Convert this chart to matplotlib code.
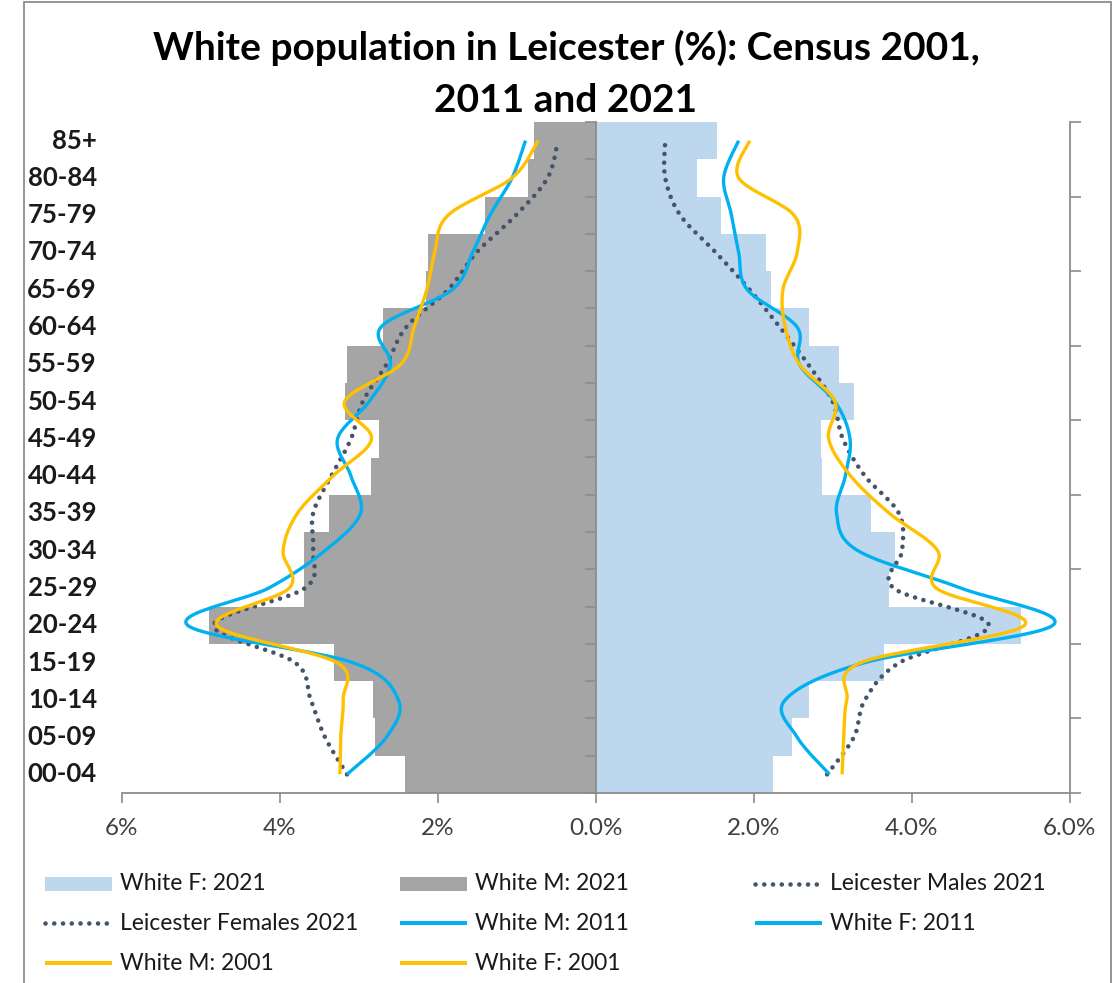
import numpy as np
import matplotlib
matplotlib.use("Agg")
import matplotlib.pyplot as plt
from matplotlib.patches import Rectangle
from matplotlib.lines import Line2D
from matplotlib.transforms import blended_transform_factory

# ---- data (percent of population, age groups from youngest to oldest) ----
age_groups = ["00-04", "05-09", "10-14", "15-19", "20-24", "25-29", "30-34",
              "35-39", "40-44", "45-49", "50-54", "55-59", "60-64", "65-69",
              "70-74", "75-79", "80-84", "85+"]
age_mid = [2.5, 7.5, 12.5, 17.5, 22.5, 27.5, 32.5, 37.5, 42.5, 47.5,
           52.5, 57.5, 62.5, 67.5, 72.5, 77.5, 82.5, 87.5]

white_m_2021 = [2.41, 2.79, 2.82, 3.31, 4.90, 3.69, 3.69, 3.38, 2.85, 2.75,
                3.18, 3.15, 2.69, 2.15, 2.13, 1.40, 0.86, 0.78]
white_f_2021 = [2.25, 2.48, 2.70, 3.65, 5.39, 3.71, 3.79, 3.48, 2.87, 2.85,
                3.27, 3.08, 2.70, 2.22, 2.15, 1.59, 1.28, 1.54]

leicester_m_2021 = [3.15, 3.43, 3.61, 3.81, 4.84, 3.68, 3.58, 3.58, 3.35, 3.10,
                    2.95, 2.65, 2.40, 1.87, 1.51, 1.01, 0.61, 0.48]
leicester_f_2021 = [2.93, 3.27, 3.41, 3.85, 4.98, 3.77, 3.88, 3.84, 3.41, 3.13,
                    3.00, 2.69, 2.33, 1.95, 1.52, 1.07, 0.88, 0.88]

white_m_2011 = [3.15, 2.65, 2.50, 3.08, 5.17, 4.14, 3.43, 2.98, 3.10, 3.27,
                2.87, 2.60, 2.72, 1.82, 1.56, 1.34, 1.06, 0.89]
white_f_2011 = [2.96, 2.55, 2.40, 3.41, 5.79, 4.62, 3.32, 3.05, 3.16, 3.22,
                3.03, 2.58, 2.55, 1.92, 1.81, 1.72, 1.62, 1.81]

white_m_2001 = [3.24, 3.23, 3.20, 3.28, 4.80, 3.88, 3.96, 3.78, 3.33, 2.84,
                3.18, 2.47, 2.30, 2.14, 2.04, 1.87, 1.06, 0.73]
white_f_2001 = [3.12, 3.14, 3.18, 3.36, 5.43, 4.31, 4.33, 3.72, 3.23, 2.95,
                3.03, 2.58, 2.40, 2.37, 2.55, 2.51, 1.81, 1.95]

x_ticks = [-6, -4, -2, 0, 2, 4, 6]
x_tick_labels = ["6%", "4%", "2%", "0.0%", "2.0%", "4.0%", "6.0%"]

# ---- styling ----
C_GREY_BAR = "#A5A5A5"
C_BLUE_BAR = "#BDD7EE"
C_BLUE = "#00B0F0"
C_ORANGE = "#FFC000"
C_DOT = "#44546A"
C_AXIS = "#8C8C8C"
FONT = "Lato"

W, H = 1114, 983
fig = plt.figure(figsize=(W / 100, H / 100), dpi=100)
fig.patch.set_facecolor("white")


def fx(px):
    return px / W


def fy(py):
    return 1 - py / H


def smooth(xs, ys, n=24):
    """Bezier smoothing through the points (Catmull-Rom style control points)."""
    P = np.column_stack([xs, ys]).astype(float)
    ext = np.vstack([P[0], P, P[-1]])
    t = np.linspace(0, 1, n)[:, None]
    parts = []
    for i in range(len(P) - 1):
        p0, p1, p2, p3 = ext[i], ext[i + 1], ext[i + 2], ext[i + 3]
        c1 = p1 + (p2 - p0) / 6.0
        c2 = p2 - (p3 - p1) / 6.0
        seg = ((1 - t) ** 3) * p1 + 3 * ((1 - t) ** 2) * t * c1 \
            + 3 * (1 - t) * (t ** 2) * c2 + (t ** 3) * p2
        parts.append(seg if i == 0 else seg[1:])
    return np.vstack(parts)


# chart border
fig.add_artist(Rectangle((fx(24), fy(1000)), fx(1111) - fx(24), fy(2) - fy(1000),
                         transform=fig.transFigure, fill=False,
                         edgecolor=C_AXIS, linewidth=1.3, zorder=0))

ax = fig.add_axes([fx(122), fy(793), fx(1069.5) - fx(122), fy(122) - fy(793)])
idx = np.arange(len(age_groups))

ax.barh(idx, -np.array(white_m_2021), height=1.0, color=C_GREY_BAR, linewidth=0)
ax.barh(idx, white_f_2021, height=1.0, color=C_BLUE_BAR, linewidth=0)

ax.set_xlim(-6, 6)
ax.set_ylim(-0.5, len(age_groups) - 0.5)
ax.set_xticks(x_ticks)
ax.set_xticklabels(x_tick_labels, fontsize=17.5, family=FONT, color="#404040")
ax.tick_params(axis="x", direction="out", length=7, width=1.2, color=C_AXIS, pad=11)

ax.spines["top"].set_visible(False)
ax.spines["right"].set_visible(False)
ax.spines["bottom"].set_color(C_AXIS)
ax.spines["bottom"].set_linewidth(1.3)
ax.spines["left"].set_position(("data", 0))
ax.spines["left"].set_color(C_AXIS)
ax.spines["left"].set_linewidth(1.3)
ax.set_yticks(np.arange(-0.5, len(age_groups), 1.0))
ax.set_yticklabels([])
ax.tick_params(axis="y", direction="out", length=8, width=1.2, color=C_AXIS)

# age group labels on the far left
lab_tr = blended_transform_factory(fig.transFigure, ax.transData)
for i, g in enumerate(age_groups):
    ax.text(fx(97), i, g, transform=lab_tr, ha="right", va="center",
            fontsize=18.5, fontweight="bold", family=FONT, color="#1a1a1a")

# secondary axis for the age profile lines
ax2 = ax.twinx()
ax2.set_ylim(0, 90)
ax2.set_yticks(np.arange(0, 91, 10))
ax2.set_yticklabels([])
ax2.tick_params(axis="y", direction="out", length=8, width=1.2, color=C_AXIS)
for s in ["top", "left", "bottom"]:
    ax2.spines[s].set_visible(False)
ax2.spines["right"].set_color(C_AXIS)
ax2.spines["right"].set_linewidth(1.3)

LW = 2.4
DOT_STYLE = dict(color=C_DOT, linewidth=3.3, linestyle=(0, (0.01, 1.9)),
                 dash_capstyle="round")

series = [
    (leicester_m_2021, -1, DOT_STYLE),
    (leicester_f_2021, 1, DOT_STYLE),
    (white_m_2011, -1, dict(color=C_BLUE, linewidth=LW)),
    (white_f_2011, 1, dict(color=C_BLUE, linewidth=LW)),
    (white_m_2001, -1, dict(color=C_ORANGE, linewidth=LW)),
    (white_f_2001, 1, dict(color=C_ORANGE, linewidth=LW)),
]
for vals, sign, style in series:
    pts = smooth(sign * np.array(vals), age_mid)
    ax2.plot(pts[:, 0], pts[:, 1], solid_capstyle="butt", **style)

# title
fig.text(fx(566), fy(48), "White population in Leicester (%): Census 2001,",
         ha="center", va="center", fontsize=28, fontweight="bold", family=FONT,
         color="#000000")
fig.text(fx(566), fy(101), "2011 and 2021",
         ha="center", va="center", fontsize=28, fontweight="bold", family=FONT,
         color="#000000")

# legend (three columns, filled row by row)
legend_items = [
    ("White F: 2021", "patch", dict(color=C_BLUE_BAR)),
    ("White M: 2021", "patch", dict(color=C_GREY_BAR)),
    ("Leicester Males 2021", "line", DOT_STYLE),
    ("Leicester Females 2021", "line", DOT_STYLE),
    ("White M: 2011", "line", dict(color=C_BLUE, linewidth=LW + 0.5)),
    ("White F: 2011", "line", dict(color=C_BLUE, linewidth=LW + 0.5)),
    ("White M: 2001", "line", dict(color=C_ORANGE, linewidth=LW + 0.5)),
    ("White F: 2001", "line", dict(color=C_ORANGE, linewidth=LW + 0.5)),
]
col_x = [45, 400, 755]
row_y = [884, 923, 963]
for k, (label, kind, style) in enumerate(legend_items):
    r, c = divmod(k, 3)
    x0, y0 = col_x[c], row_y[r]
    if kind == "patch":
        fig.add_artist(Rectangle((fx(x0), fy(y0 + 7)), fx(x0 + 67) - fx(x0),
                                 fy(y0 - 7) - fy(y0 + 7), transform=fig.transFigure,
                                 facecolor=style["color"], edgecolor="none"))
    else:
        fig.add_artist(Line2D([fx(x0), fx(x0 + 67)], [fy(y0), fy(y0)],
                              transform=fig.transFigure, solid_capstyle="butt",
                              **style))
    fig.text(fx(x0 + 75), fy(y0), label, ha="left", va="center",
             fontsize=16.5, family=FONT, color="#1a1a1a")

fig.savefig("out.png", dpi=100, facecolor="white")
